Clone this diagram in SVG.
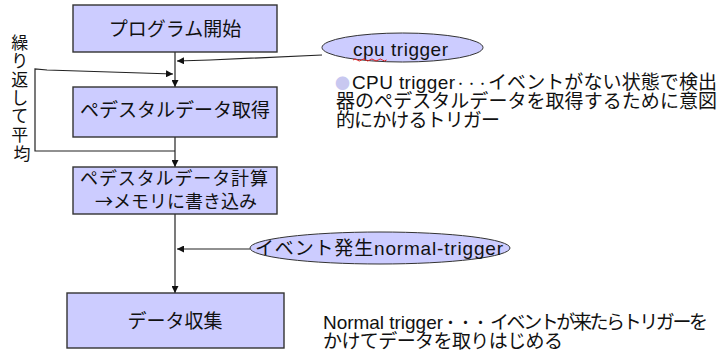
<svg xmlns="http://www.w3.org/2000/svg" width="720" height="356" viewBox="0 0 720 356">
<defs>
<style>
.box{fill:#ccccff;stroke:#333;stroke-width:1.4}
.ell{fill:#ccccff;stroke:#333;stroke-width:1}
.t{font-family:"Liberation Sans","Noto Sans CJK JP",sans-serif;font-size:19px;fill:#111}
.j{font-family:"Noto Sans CJK JP",sans-serif}
.c{text-anchor:middle}
.v{font-size:17px}
.s{font-size:18px}
.ln{fill:none;stroke:#222;stroke-width:1.2}
</style>
<marker id="ah" viewBox="0 0 8 8" refX="8" refY="4" markerWidth="7" markerHeight="7" markerUnits="userSpaceOnUse" orient="auto">
<path d="M0,0 L8,4 L0,8 Z" fill="#111"/>
</marker>
</defs>
<rect width="720" height="356" fill="#fff"/>

<g id="connectors">
<line class="ln" x1="175" y1="52" x2="175" y2="87" marker-end="url(#ah)"/>
<polyline class="ln" points="322,55 210,60 177,61" marker-end="url(#ah)"/>
<polyline class="ln" points="175,151 35,151 35,69 47,70 173,74" marker-end="url(#ah)"/>
<line class="ln" x1="175" y1="137" x2="175" y2="167" marker-end="url(#ah)"/>
<line class="ln" x1="175" y1="214" x2="175" y2="293" marker-end="url(#ah)"/>
<line class="ln" x1="250" y1="249" x2="177" y2="249" marker-end="url(#ah)"/>
</g>

<g id="start">
<rect class="box" x="73" y="5" width="204" height="47"/>
<text class="t c" x="175" y="36">プログラム開始</text>
</g>

<g id="pedestal-get">
<rect class="box" x="73" y="87" width="204" height="50"/>
<text class="t c" x="175" y="117">ペデスタルデータ取得</text>
</g>

<g id="pedestal-calc">
<rect class="box" x="73" y="167" width="204" height="47"/>
<text class="t s" x="80" y="185" textLength="188">ペデスタルデータ計算</text>
<text class="t j s" x="95" y="208" textLength="162">→メモリに書き込み</text>
</g>

<g id="data-collect">
<rect class="box" x="67" y="293" width="217" height="55"/>
<text class="t c" x="175" y="328">データ収集</text>
</g>

<g id="cpu-trigger">
<ellipse class="ell" cx="402.5" cy="47.5" rx="80.5" ry="14.5"/>
<text class="t" x="353" y="56" textLength="95">cpu trigger</text>
<path d="M353,60 q2.1,-2 4.2,0 t4.2,0 t4.2,0 t4.2,0 t4.2,0 t4.2,0 t4.2,0 t4.2,0" fill="none" stroke="#e02020" stroke-width="1"/>
</g>

<g id="normal-trigger">
<ellipse class="ell" cx="380" cy="248" rx="130" ry="16"/>
<text class="t" x="255" y="255" textLength="248">イベント発生normal-trigger</text>
</g>

<g id="loop-label">
<text class="t c v" x="22">
<tspan x="22" y="49">繰</tspan>
<tspan x="22" y="67">り</tspan>
<tspan x="22" y="86">返</tspan>
<tspan x="22" y="104">し</tspan>
<tspan x="22" y="122">て</tspan>
<tspan x="22" y="141">平</tspan>
<tspan x="22" y="160">均</tspan>
</text>
</g>

<g id="cpu-note">
<text class="t j" x="335" y="89" style="font-size:15px;fill:#c8c8f0">●</text>
<text class="t" x="352" y="89" textLength="103">CPU trigger</text>
<text class="t j" x="455" y="88" style="font-size:11px">・・・</text>
<text class="t" x="488" y="89" textLength="229">イベントがない状態で検出</text>
<text class="t" x="336" y="108" textLength="381">器のペデスタルデータを取得するために意図</text>
<text class="t" x="336" y="127" textLength="164">的にかけるトリガー</text>
</g>

<g id="normal-note">
<text class="t" x="323" y="329" textLength="120">Normal trigger</text>
<text class="t j" x="443" y="328" style="font-size:15px">・・・</text>
<text class="t" x="490" y="329" textLength="218">イベントが来たらトリガーを</text>
<text class="t" x="323" y="348" textLength="240">かけてデータを取りはじめる</text>
</g>
</svg>
